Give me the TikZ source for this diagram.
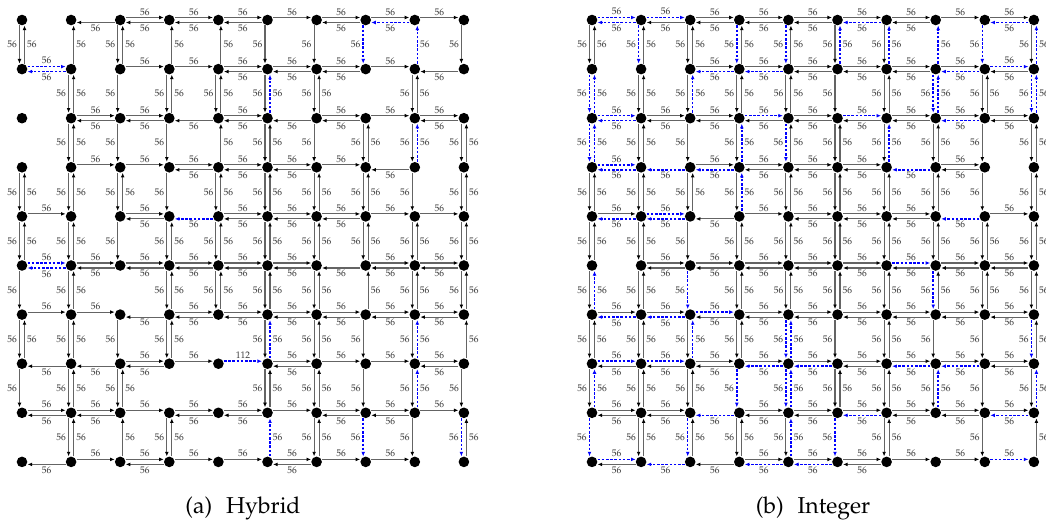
\documentclass[tikz,border=0pt]{standalone}
\usepackage[T1]{fontenc}
\usepackage{mathpazo}
\usetikzlibrary{arrows.meta}
\definecolor{flowblue}{RGB}{0, 0, 255}
\definecolor{flowgray}{RGB}{100, 100, 100}
\definecolor{labgray}{RGB}{55, 55, 55}
\tikzset{
  vertex/.style={circle, fill=black, inner sep=0pt, minimum size=10.6pt},
  arc/.style={line width=1.1pt},
  tonek/.style={draw=flowgray, -{Latex[length=4.6pt, width=3.8pt, black]}},
  toneb/.style={draw=flowblue, line width=1.5pt, dash pattern=on 2.6pt off 1.6pt,
    -{Latex[length=4.6pt, width=3.8pt]}},
  lab/.style={font=\fontsize{9.5}{9.5}\selectfont, text=labgray, inner sep=0.5pt},
  caption/.style={font=\fontsize{23}{23}\selectfont, anchor=base}
}
% two arcs of one horizontal edge: code = (rightward)(leftward), n none, k black, b blue
\newcommand\hpair[3]{\expandafter\hpairx#3\relax{#1}{#2}}
\def\hpairx#1#2\relax#3#4{%
  \ifx n#1\else
    \draw[arc, tone#1] ([yshift=2.5pt]#3.east) -- node[lab, above=1.2pt] {56} ([yshift=2.5pt]#4.west);
  \fi
  \ifx n#2\else
    \draw[arc, tone#2] ([yshift=-2.5pt]#4.west) -- node[lab, below=1.2pt] {56} ([yshift=-2.5pt]#3.east);
  \fi}
% two arcs of one vertical edge: code = (downward)(upward)
\newcommand\vpair[3]{\expandafter\vpairx#3\relax{#1}{#2}}
\def\vpairx#1#2\relax#3#4{%
  \ifx n#1\else
    \draw[arc, tone#1] ([xshift=-2.5pt]#3.south) -- node[lab, left=1.6pt] {56} ([xshift=-2.5pt]#4.north);
  \fi
  \ifx n#2\else
    \draw[arc, tone#2] ([xshift=2.5pt]#4.north) -- node[lab, right=1.6pt] {56} ([xshift=2.5pt]#3.south);
  \fi}

\begin{document}
\begin{tikzpicture}[x=1pt, y=-1pt]
  \useasboundingbox (0, 0) rectangle (1046, 521);

  % Hybrid
  \begin{scope}
    \foreach \col in {0,...,9}
      \foreach \rw in {0,...,9}
        \node[vertex] (hyb-\col-\rw) at (22+49.1*\col, 20+49.1*\rw) {};
    \foreach \rw/\edges in {0/{nn,nk,kk,kk,kk,kn,kk,kb,kn}, 1/{bb,nn,kn,kn,kk,kk,kk,kn,nk},
        2/{nn,kk,kk,nk,kk,nk,kk,kn,kk}, 3/{nn,kn,kn,kk,kk,kk,kn,nk,nn},
        4/{kn,nn,kk,nb,kk,kk,kk,kn,kn}, 5/{bb,kk,kk,kk,kk,kk,nk,kk,kk},
        6/{kn,kn,nk,kk,kk,kk,kk,kk,kk}, 7/{nk,nk,kk,kn,nn,kk,kn,kn,kk},
        8/{kk,kk,kn,kk,kk,kn,kk,kk,kn}, 9/{nk,kn,kk,kn,kn,kk,kn,kn,nn}} {
      \foreach \e [count=\col from 0] in \edges {
        \pgfmathtruncatemacro\nxt{\col+1}
        \hpair{hyb-\col-\rw}{hyb-\nxt-\rw}{\e}
      }
    }
    \foreach \rw/\edges in {0/{kk,nk,kk,nk,nk,kn,kn,bn,nb,kn}, 1/{nn,kk,kn,kk,kk,kb,kk,nn,kk,nn},
        2/{nn,kk,kn,kn,nk,kk,kn,kk,kb,kk}, 3/{kk,kk,kk,kn,kk,kk,kk,kk,kn,kk},
        4/{kk,kk,kn,kk,kk,kk,kk,kk,kk,kk}, 5/{kn,kk,nn,kk,kk,kk,kk,nk,kk,kk},
        6/{kk,kk,kn,kk,nn,kb,kk,kn,kb,nk}, 7/{kn,kk,kk,nn,nn,kk,kk,kn,kb,kn},
        8/{nn,kk,nk,kk,nn,nb,kk,bn,kn,bk}} {
      \foreach \e [count=\col from 0] in \edges {
        \pgfmathtruncatemacro\nxt{\rw+1}
        \vpair{hyb-\col-\rw}{hyb-\col-\nxt}{\e}
      }
    }
    \draw[arc, toneb] ([yshift=2.5pt]hyb-4-7.east) -- node[lab, above=1.2pt] {112} ([yshift=2.5pt]hyb-5-7.west);
    \node[caption] (cap-hyb) at (243, 513) {(a)\hspace{0.6em}Hybrid};
  \end{scope}

  % Integer
  \begin{scope}[xshift=570pt]
    \foreach \col in {0,...,9}
      \foreach \rw in {0,...,9}
        \node[vertex] (int-\col-\rw) at (22+49.1*\col, 20+49.1*\rw) {};
    \foreach \rw/\edges in {0/{bb,bk,kk,kk,kk,kb,kk,kn,kb}, 1/{nn,nn,kb,kb,kk,kk,kk,kb,bk},
        2/{bb,kk,kk,bk,kk,bk,kk,kb,kk}, 3/{bb,nb,kb,kk,kk,kk,nb,kk,nn},
        4/{kb,bb,nk,kn,kk,kk,kk,nb,kn}, 5/{nn,kk,kk,kk,kk,kk,bk,kk,kk},
        6/{kb,kb,bk,kk,kk,kk,kk,kk,kk}, 7/{bk,bk,kk,kb,kb,kk,kb,kb,kk},
        8/{kk,kk,nb,kk,kk,kb,kk,kk,kb}, 9/{bk,nb,nk,kb,kb,kk,kn,kn,bn}} {
      \foreach \e [count=\col from 0] in \edges {
        \pgfmathtruncatemacro\nxt{\col+1}
        \hpair{int-\col-\rw}{int-\nxt-\rw}{\e}
      }
    }
    \foreach \rw/\edges in {0/{kk,bk,kk,bk,bk,kb,kb,nb,bn,kb}, 1/{bb,kk,kb,kk,kk,kn,kk,bb,kk,bb},
        2/{bb,kk,kn,kb,bk,kk,kb,kk,kn,kk}, 3/{kk,kk,kk,kb,kk,kk,kk,kk,kn,kk},
        4/{kk,kk,kn,kk,kk,kk,kk,kk,kk,kk}, 5/{kb,kk,bn,kk,kk,kk,kk,bk,kk,kk},
        6/{kk,kk,kb,kk,bb,kn,kk,kn,kn,bk}, 7/{kb,kk,kk,bn,bb,kk,kk,kb,kn,kb},
        8/{bn,kk,bk,kk,kb,bn,kk,nn,kn,nk}} {
      \foreach \e [count=\col from 0] in \edges {
        \pgfmathtruncatemacro\nxt{\rw+1}
        \vpair{int-\col-\rw}{int-\col-\nxt}{\e}
      }
    }
    \node[caption] (cap-int) at (243, 513) {(b)\hspace{0.6em}Integer};
  \end{scope}
\end{tikzpicture}
\end{document}
